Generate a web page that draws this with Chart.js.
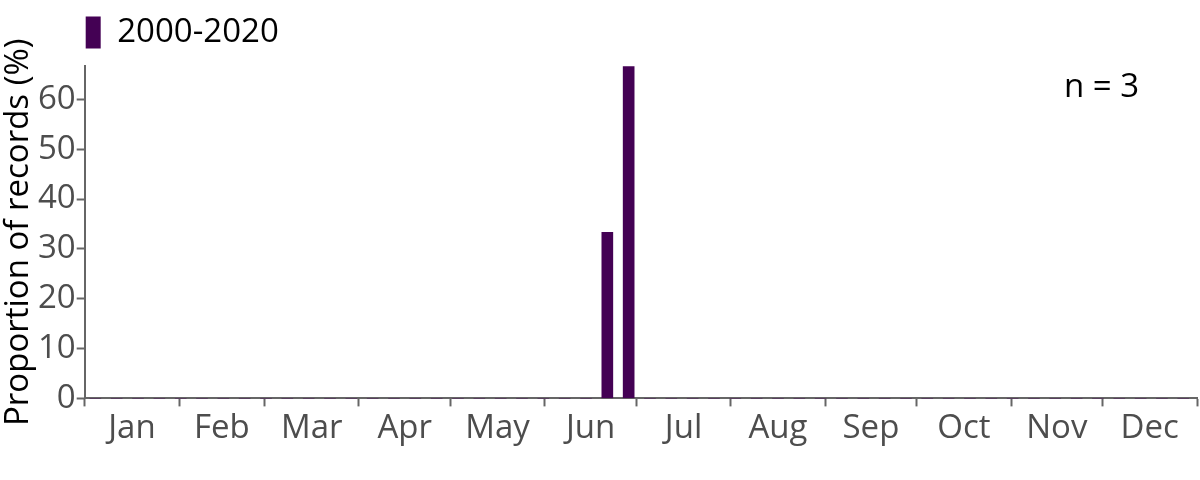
<!DOCTYPE html>
<html>
<head>
<meta charset="utf-8">
<script src="https://cdn.jsdelivr.net/npm/chart.js@4"></script>
<style>
  html, body { margin: 0; padding: 0; background: #fff; }
  #wrap { width: 1200px; height: 480px; }
</style>
</head>
<body>
<div id="wrap"><canvas id="myChart"></canvas></div>
<script>
  // month names and their lengths (x axis is day of year)
  const months = ['Jan', 'Feb', 'Mar', 'Apr', 'May', 'Jun', 'Jul', 'Aug', 'Sep', 'Oct', 'Nov', 'Dec'];
  const monthDays = [31, 28, 31, 30, 31, 30, 31, 31, 30, 31, 30, 31];

  // weekly bins, proportion of records (%)
  const weeks = [];
  for (let w = 1; w <= 52; w++) weeks.push(w);
  const proportion = [
    0, 0, 0, 0, 0, 0, 0, 0, 0, 0, 0, 0, 0,
    0, 0, 0, 0, 0, 0, 0, 0, 0, 0, 0, 33.33, 66.67,
    0, 0, 0, 0, 0, 0, 0, 0, 0, 0, 0, 0, 0,
    0, 0, 0, 0, 0, 0, 0, 0, 0, 0, 0, 0, 0
  ];
  const yTicks = [0, 10, 20, 30, 40, 50, 60];
  const seriesLabel = '2000-2020';
  const nRecords = 3;

  const FONT = 'Open Sans';
  const AXIS = '#666666';

  const boundaries = [0];
  monthDays.forEach(d => boundaries.push(boundaries[boundaries.length - 1] + d));
  const mids = months.map((m, i) => (boundaries[i] + boundaries[i + 1]) / 2);

  const nLabel = {
    id: 'nLabel',
    afterDraw(chart) {
      const c = chart.ctx, a = chart.chartArea;
      c.save();
      c.font = '33px "' + FONT + '"';
      c.fillStyle = '#000';
      c.textAlign = 'right';
      c.textBaseline = 'alphabetic';
      c.fillText('n = ' + nRecords, a.right - 58, 97);
      c.restore();
    }
  };

  const ctx = document.getElementById('myChart');
  new Chart(ctx, {
    type: 'bar',
    data: {
      datasets: [{
        label: seriesLabel,
        data: weeks.map((w, i) => ({ x: (w - 1) * 7 + 3.5, y: proportion[i] })),
        backgroundColor: '#440154',
        borderWidth: 0,
        barThickness: 11
      }]
    },
    plugins: [nLabel],
    options: {
      animation: false,
      maintainAspectRatio: false,
      layout: { padding: { left: 0, right: 3, top: 15, bottom: 30 } },
      plugins: {
        tooltip: { enabled: false },
        legend: {
          position: 'top',
          align: 'start',
          fullSize: false,
          labels: {
            boxWidth: 15,
            boxHeight: 32,
            padding: 1,
            color: '#000',
            font: { family: FONT, size: 33 }
          }
        },
        // empty spacer between legend and plot
        subtitle: {
          display: true,
          text: '',
          weight: 500,
          fullSize: false,
          padding: 0,
          font: { size: 6 }
        }
      },
      scales: {
        x: {
          type: 'linear',
          min: 0,
          max: 365,
          offset: false,
          afterBuildTicks: scale => {
            const t = boundaries.map(v => ({ value: v }));
            mids.forEach(v => t.push({ value: v }));
            t.sort((a, b) => a.value - b.value);
            scale.ticks = t;
          },
          ticks: {
            autoSkip: false,
            maxRotation: 0,
            padding: 2,
            color: '#4d4d4d',
            font: { family: FONT, size: 33 },
            callback: v => {
              const i = mids.indexOf(v);
              return i >= 0 ? months[i] : '';
            }
          },
          grid: {
            offset: false,
            drawOnChartArea: false,
            tickLength: 8,
            tickWidth: 2,
            tickColor: c => (c.tick && boundaries.indexOf(c.tick.value) >= 0) ? AXIS : 'rgba(0,0,0,0)'
          },
          border: { color: AXIS, width: 2 }
        },
        y: {
          min: 0,
          max: 66.67,
          afterBuildTicks: scale => {
            scale.ticks = yTicks.map(v => ({ value: v }));
          },
          ticks: {
            padding: 1,
            color: '#4d4d4d',
            font: { family: FONT, size: 33 }
          },
          grid: {
            drawOnChartArea: false,
            tickLength: 8,
            tickWidth: 2,
            tickColor: AXIS
          },
          border: { color: AXIS, width: 2 },
          title: {
            display: true,
            text: 'Proportion of records (%)',
            color: '#000',
            padding: 0,
            font: { family: FONT, size: 33, lineHeight: 1.12 }
          }
        }
      }
    }
  });
</script>
</body>
</html>
